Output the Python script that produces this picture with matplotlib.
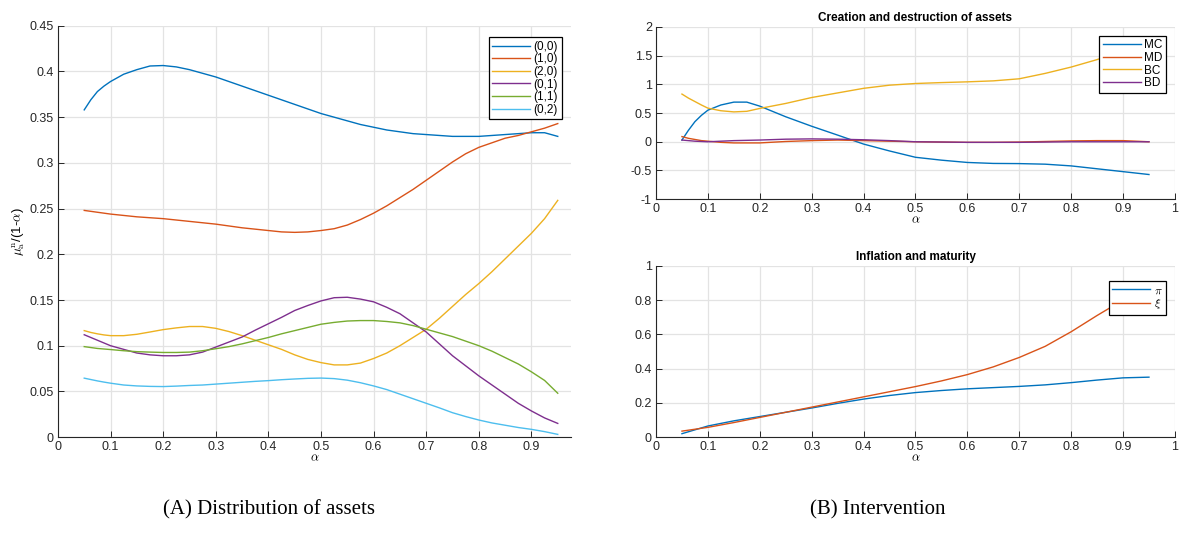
import matplotlib
matplotlib.use("Agg")
import matplotlib.pyplot as plt

# ---- data -------------------------------------------------------------
# alpha grid for the distribution curves
alpha = [0.050, 0.0625, 0.075, 0.0875, 0.100, 0.125, 0.150, 0.175, 0.200, 0.225,
         0.250, 0.275, 0.300, 0.325, 0.350, 0.375, 0.400, 0.425, 0.450, 0.475,
         0.500, 0.525, 0.550, 0.575, 0.600, 0.625, 0.650, 0.675, 0.700, 0.725,
         0.750, 0.775, 0.800, 0.825, 0.850, 0.875, 0.900, 0.925, 0.950]

dist_labels = ["(0,0)", "(1,0)", "(2,0)", "(0,1)", "(1,1)", "(0,2)"]
d00 = [0.358, 0.369, 0.378, 0.384, 0.389, 0.397, 0.402, 0.406, 0.4065, 0.405,
       0.402, 0.398, 0.394, 0.389, 0.384, 0.379, 0.374, 0.369, 0.364, 0.359,
       0.354, 0.350, 0.346, 0.342, 0.339, 0.336, 0.334, 0.332, 0.331, 0.330,
       0.329, 0.329, 0.329, 0.330, 0.331, 0.332, 0.333, 0.333, 0.329]
d10 = [0.248, 0.247, 0.246, 0.245, 0.244, 0.2425, 0.241, 0.240, 0.239, 0.2375,
       0.236, 0.2345, 0.233, 0.231, 0.229, 0.2275, 0.226, 0.2245, 0.224, 0.2245,
       0.226, 0.228, 0.232, 0.238, 0.245, 0.253, 0.262, 0.271, 0.281, 0.291,
       0.301, 0.310, 0.317, 0.322, 0.327, 0.330, 0.334, 0.338, 0.343]
d20 = [0.1165, 0.1145, 0.113, 0.1118, 0.111, 0.111, 0.1125, 0.115, 0.1176, 0.1195,
       0.121, 0.121, 0.119, 0.1155, 0.111, 0.106, 0.101, 0.096, 0.090, 0.085,
       0.0815, 0.079, 0.079, 0.081, 0.086, 0.092, 0.100, 0.109, 0.118, 0.130,
       0.143, 0.156, 0.168, 0.181, 0.195, 0.209, 0.223, 0.239, 0.259]
d01 = [0.112, 0.109, 0.106, 0.103, 0.100, 0.096, 0.092, 0.090, 0.089, 0.089,
       0.090, 0.093, 0.0985, 0.104, 0.1095, 0.117, 0.124, 0.131, 0.1385, 0.144,
       0.149, 0.1525, 0.153, 0.151, 0.148, 0.142, 0.135, 0.125, 0.115, 0.102,
       0.089, 0.078, 0.067, 0.057, 0.047, 0.037, 0.0286, 0.021, 0.015]
d11 = [0.099, 0.098, 0.097, 0.0964, 0.0958, 0.0945, 0.0935, 0.093, 0.0926, 0.0926,
       0.093, 0.0945, 0.0967, 0.099, 0.102, 0.1055, 0.109, 0.113, 0.1165, 0.120,
       0.1235, 0.1255, 0.127, 0.1275, 0.1275, 0.1265, 0.125, 0.122, 0.118, 0.114,
       0.110, 0.105, 0.100, 0.094, 0.087, 0.080, 0.0714, 0.062, 0.048]
d02 = [0.0645, 0.063, 0.0615, 0.0602, 0.059, 0.057, 0.056, 0.0555, 0.0553, 0.0558,
       0.0565, 0.057, 0.058, 0.059, 0.060, 0.061, 0.0618, 0.0628, 0.0636, 0.0643,
       0.0646, 0.064, 0.0623, 0.0595, 0.056, 0.052, 0.047, 0.042, 0.037, 0.032,
       0.0267, 0.0225, 0.0187, 0.0155, 0.013, 0.0105, 0.0085, 0.006, 0.003]
dist_series = [d00, d10, d20, d01, d11, d02]

# alpha grid for the creation/destruction curves
alpha_flow = [0.050, 0.0625, 0.075, 0.0875, 0.100, 0.125, 0.150, 0.175, 0.200, 0.250,
              0.300, 0.350, 0.400, 0.450, 0.500, 0.550, 0.600, 0.650, 0.700, 0.750,
              0.800, 0.850, 0.900, 0.950]
flow_labels = ["MC", "MD", "BC", "BD"]
mc = [0.03, 0.20, 0.35, 0.46, 0.55, 0.64, 0.69, 0.69, 0.62, 0.435,
      0.27, 0.116, -0.04, -0.16, -0.27, -0.32, -0.36, -0.377, -0.38, -0.39,
      -0.42, -0.47, -0.52, -0.57]
md = [0.09, 0.06, 0.04, 0.02, 0.01, -0.01, -0.02, -0.02, -0.02, 0.005,
      0.02, 0.03, 0.02, 0.01, 0.00, -0.005, -0.01, -0.01, -0.005, 0.005,
      0.015, 0.02, 0.02, 0.00]
bc = [0.83, 0.76, 0.70, 0.64, 0.585, 0.54, 0.52, 0.53, 0.58, 0.667,
      0.77, 0.85, 0.93, 0.985, 1.014, 1.03, 1.043, 1.06, 1.096, 1.19,
      1.30, 1.43, 1.58, 1.72]
bd = [0.03, 0.02, 0.01, 0.005, 0.00, 0.01, 0.02, 0.025, 0.03, 0.045,
      0.05, 0.045, 0.035, 0.02, 0.00, -0.005, -0.01, -0.01, -0.01, -0.005,
      0.00, 0.00, 0.00, 0.00]
flow_series = [mc, md, bc, bd]

# alpha grid for inflation / maturity
alpha_infl = [0.05, 0.10, 0.15, 0.20, 0.25, 0.30, 0.35, 0.40, 0.45, 0.50,
              0.55, 0.60, 0.65, 0.70, 0.75, 0.80, 0.85, 0.90, 0.95]
infl_labels = [r"$\pi$", r"$\xi$"]
pi_vals = [0.020, 0.065, 0.095, 0.120, 0.145, 0.170, 0.197, 0.222, 0.243, 0.260,
           0.272, 0.282, 0.289, 0.296, 0.305, 0.318, 0.333, 0.346, 0.350]
xi_vals = [0.035, 0.057, 0.085, 0.115, 0.145, 0.175, 0.205, 0.235, 0.265, 0.295,
           0.328, 0.365, 0.410, 0.465, 0.530, 0.615, 0.710, 0.800, 0.880]
infl_series = [pi_vals, xi_vals]

captions = ["(A) Distribution of assets", "(B) Intervention"]

# ---- style ------------------------------------------------------------
colors = ["#0072BD", "#D95319", "#EDB120", "#7E2F8E", "#77AC30", "#4DBEEE"]
plt.rcParams["font.family"] = ["Liberation Sans", "DejaVu Sans"]
plt.rcParams["mathtext.fontset"] = "cm"

fig = plt.figure(figsize=(11.82, 5.37), dpi=100)


def style_axes(ax):
    ax.grid(True, color="#e3e3e3", linewidth=0.9)
    ax.set_axisbelow(True)
    for s in ("top", "right"):
        ax.spines[s].set_visible(False)
    for s in ("left", "bottom"):
        ax.spines[s].set_color("#262626")
        ax.spines[s].set_linewidth(0.8)
    ax.tick_params(direction="in", length=4, width=0.7, labelsize=9,
                   colors="#262626", pad=3)


def add_legend(ax, anchor, fontsize):
    leg = ax.legend(loc="upper right", bbox_to_anchor=anchor, fontsize=fontsize,
                    frameon=True, fancybox=False, handlelength=3.2,
                    handletextpad=0.3, labelspacing=0.05, borderpad=0.3,
                    borderaxespad=0.0)
    leg.get_frame().set_edgecolor("black")
    leg.get_frame().set_linewidth(0.9)
    leg.get_frame().set_alpha(1.0)
    return leg


# ---- left panel: distribution of assets --------------------------------
axL = fig.add_axes([0.049, 0.186, 0.434, 0.766])
for ys, lab, c in zip(dist_series, dist_labels, colors):
    axL.plot(alpha, ys, color=c, linewidth=1.0, label=lab)
axL.set_xlim(0, 0.975)
axL.set_ylim(0, 0.45)
axL.set_xticks([0, 0.1, 0.2, 0.3, 0.4, 0.5, 0.6, 0.7, 0.8, 0.9])
axL.set_xticklabels(["0", "0.1", "0.2", "0.3", "0.4", "0.5", "0.6", "0.7", "0.8", "0.9"])
axL.set_yticks([0, 0.05, 0.1, 0.15, 0.2, 0.25, 0.3, 0.35, 0.4, 0.45])
axL.set_yticklabels(["0", "0.05", "0.1", "0.15", "0.2", "0.25", "0.3", "0.35", "0.4", "0.45"])
style_axes(axL)
axL.set_xlabel(r"$\alpha$", fontsize=9, labelpad=-1)
axL.set_ylabel(r"$\mu_{\rm a}^{\rm n}$/(1-$\alpha$)", fontsize=9.5, labelpad=2)
add_legend(axL, (0.982, 0.972), 8.5)

# ---- right top: creation and destruction --------------------------------
axT = fig.add_axes([0.555, 0.629, 0.439, 0.321])
for ys, lab, c in zip(flow_series, flow_labels, colors[:4]):
    axT.plot(alpha_flow, ys, color=c, linewidth=1.0, label=lab)
axT.set_xlim(0, 1)
axT.set_ylim(-1, 2)
axT.set_xticks([0, 0.1, 0.2, 0.3, 0.4, 0.5, 0.6, 0.7, 0.8, 0.9, 1])
axT.set_xticklabels(["0", "0.1", "0.2", "0.3", "0.4", "0.5", "0.6", "0.7", "0.8", "0.9", "1"])
axT.set_yticks([-1, -0.5, 0, 0.5, 1, 1.5, 2])
axT.set_yticklabels(["-1", "-0.5", "0", "0.5", "1", "1.5", "2"])
style_axes(axT)
axT.set_xlabel(r"$\alpha$", fontsize=9, labelpad=-1)
axT.set_title("Creation and destruction of assets", fontsize=8.5,
              fontweight="bold", pad=4)
add_legend(axT, (0.983, 0.948), 8.5)

# ---- right bottom: inflation and maturity ------------------------------
axB = fig.add_axes([0.555, 0.186, 0.439, 0.319])
for ys, lab, c in zip(infl_series, infl_labels, colors[:2]):
    axB.plot(alpha_infl, ys, color=c, linewidth=1.0, label=lab)
axB.set_xlim(0, 1)
axB.set_ylim(0, 1)
axB.set_xticks([0, 0.1, 0.2, 0.3, 0.4, 0.5, 0.6, 0.7, 0.8, 0.9, 1])
axB.set_xticklabels(["0", "0.1", "0.2", "0.3", "0.4", "0.5", "0.6", "0.7", "0.8", "0.9", "1"])
axB.set_yticks([0, 0.2, 0.4, 0.6, 0.8, 1])
axB.set_yticklabels(["0", "0.2", "0.4", "0.6", "0.8", "1"])
style_axes(axB)
axB.set_xlabel(r"$\alpha$", fontsize=9, labelpad=-1)
axB.set_title("Inflation and maturity", fontsize=8.5, fontweight="bold", pad=4)
add_legend(axB, (0.983, 0.912), 8.5)

# ---- captions ----------------------------------------------------------
fig.text(0.228, 0.032, captions[0], ha="center", va="bottom",
         fontsize=15, family=["Liberation Serif", "DejaVu Serif"])
fig.text(0.743, 0.032, captions[1], ha="center", va="bottom",
         fontsize=15, family=["Liberation Serif", "DejaVu Serif"])

fig.savefig("out.png", dpi=100)
